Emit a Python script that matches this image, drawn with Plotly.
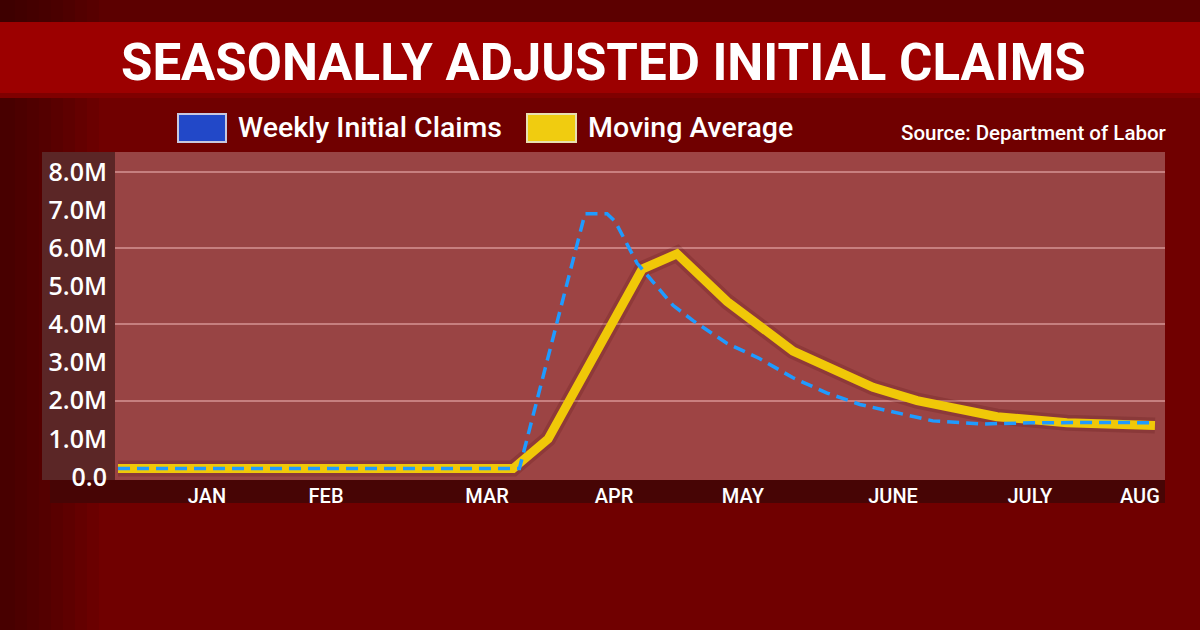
import plotly.graph_objects as go

# ---------------- data ----------------
# x is measured in weeks from the first week of January 2020
weekly_x = [0.0, 12.0, 13.96, 14.62, 14.86, 15.52, 16.59, 17.19, 18.21, 19.19,
            20.18, 21.2, 22.18, 23.17, 24.36, 25.86, 27.35, 29.36, 31.0]
weekly_claims = [0.22, 0.22, 6.9, 6.9, 6.7, 5.6, 4.5, 4.1, 3.5, 3.1,
                 2.6, 2.2, 1.9, 1.7, 1.47, 1.39, 1.42, 1.43, 1.42]

avg_x = [0.0, 11.81, 12.86, 15.67, 16.71, 18.21, 20.18, 22.57, 23.89, 26.28, 28.37, 31.0]
moving_avg = [0.22, 0.22, 1.0, 5.45, 5.85, 4.6, 3.3, 2.35, 2.0, 1.58, 1.42, 1.35]

month_pos = [2.66, 6.22, 11.03, 14.83, 18.68, 23.17, 27.26, 30.55]
month_labels = ["JAN", "FEB", "MAR", "APR", "MAY", "JUNE", "JULY", "AUG"]

y_ticks = [0, 1, 2, 3, 4, 5, 6, 7, 8]
y_labels = ["0.0", "1.0M", "2.0M", "3.0M", "4.0M", "5.0M", "6.0M", "7.0M", "8.0M"]

title_text = "SEASONALLY ADJUSTED INITIAL CLAIMS"
series_names = ["Weekly Initial Claims", "Moving Average"]
source_text = "Source: Department of Labor"

# ---------------- layout geometry ----------------
W, H = 1200, 630
L, R, T, B = 115, 1165, 152, 480


def xp(px):
    return (px - L) / (R - L)


def yp(py):
    return (B - py) / (B - T)


fig = go.Figure()

# soft shadow under the yellow line
fig.add_trace(go.Scatter(x=avg_x, y=moving_avg, mode="lines",
                         line=dict(color="rgba(70,0,0,0.16)", width=16),
                         hoverinfo="skip", showlegend=False))
fig.add_trace(go.Scatter(x=avg_x, y=moving_avg, mode="lines", name=series_names[1],
                         line=dict(color="#f0c808", width=9), showlegend=False))
fig.add_trace(go.Scatter(x=weekly_x, y=weekly_claims, mode="lines", name=series_names[0],
                         line=dict(color="#1f9bff", width=3.5, dash="12px,7px"),
                         showlegend=False))

shapes = []
# background: darker towards the left edge (stepped gradient)
for i in range(8):
    shapes.append(dict(type="rect", xref="paper", yref="paper",
                       x0=xp(0), x1=xp(15 + i * 12), y0=yp(H), y1=yp(0),
                       fillcolor="rgba(30,0,0,0.07)", line_width=0, layer="below"))
# darker top strip above the title band
shapes.append(dict(type="rect", xref="paper", yref="paper", x0=xp(0), x1=xp(W),
                   y0=yp(22), y1=yp(0), fillcolor="rgba(30,0,0,0.25)",
                   line_width=0, layer="below"))
# title band
shapes.append(dict(type="rect", xref="paper", yref="paper", x0=xp(0), x1=xp(W),
                   y0=yp(98), y1=yp(22), fillcolor="#9c0000", line_width=0, layer="below"))
shapes.append(dict(type="rect", xref="paper", yref="paper", x0=xp(0), x1=xp(W),
                   y0=yp(98), y1=yp(93), fillcolor="rgba(60,0,0,0.30)",
                   line_width=0, layer="below"))
# y label column
shapes.append(dict(type="rect", xref="paper", yref="paper", x0=xp(42), x1=xp(L),
                   y0=yp(B), y1=yp(T), fillcolor="#5b2626", line_width=0, layer="below"))
# x label strip
shapes.append(dict(type="rect", xref="paper", yref="paper", x0=xp(50), x1=xp(R),
                   y0=yp(503), y1=yp(B), fillcolor="#470505", line_width=0, layer="below"))
# plot panel: lighter towards the middle (stepped gradient)
for i in range(6):
    shapes.append(dict(type="rect", xref="paper", yref="paper",
                       x0=xp(400 + i * 40), x1=xp(1000 - i * 40), y0=yp(B), y1=yp(T),
                       fillcolor="rgba(255,110,110,0.012)", line_width=0, layer="below"))
# legend swatches
shapes.append(dict(type="rect", xref="paper", yref="paper", x0=xp(178), x1=xp(226),
                   y0=yp(142), y1=yp(114), fillcolor="#2248c8",
                   line=dict(color="#c8c8e0", width=2)))
shapes.append(dict(type="rect", xref="paper", yref="paper", x0=xp(527), x1=xp(576),
                   y0=yp(142), y1=yp(114), fillcolor="#f0cc10",
                   line=dict(color="#e8e0b0", width=2)))

annotations = [
    dict(text="<b>" + title_text + "</b>", xref="paper", yref="paper",
         x=xp(603), y=yp(62), xanchor="center", yanchor="middle", showarrow=False,
         font=dict(family="Roboto", size=51, color="white")),
    dict(text=series_names[0], xref="paper", yref="paper", x=xp(236), y=yp(128),
         xanchor="left", yanchor="middle", showarrow=False,
         font=dict(family="Roboto", size=28.5, color="white", weight=500)),
    dict(text=series_names[1], xref="paper", yref="paper", x=xp(586), y=yp(128),
         xanchor="left", yanchor="middle", showarrow=False,
         font=dict(family="Roboto", size=28.5, color="white", weight=500)),
    dict(text=source_text, xref="paper", yref="paper", x=xp(1168), y=yp(133),
         xanchor="right", yanchor="middle", showarrow=False,
         font=dict(family="Roboto", size=20.5, color="white", weight=500)),
]

fig.update_layout(
    width=W, height=H,
    margin=dict(l=L, r=W - R, t=T, b=H - B, pad=0),
    paper_bgcolor="#700000",
    plot_bgcolor="#984444",
    shapes=shapes,
    annotations=annotations,
    showlegend=False,
    xaxis=dict(range=[-0.09, 31.3], tickvals=month_pos, ticktext=month_labels,
               showgrid=False, zeroline=False, showline=False, ticks="",
               ticklabelstandoff=2,
               tickfont=dict(family="Roboto", size=20, color="white", weight=500)),
    yaxis=dict(range=[-0.08, 8.52], tickvals=y_ticks, ticktext=y_labels,
               showgrid=False, zeroline=False, showline=False, ticks="",
               ticklabelstandoff=7,
               tickfont=dict(family="Open Sans", size=25, color="white", weight=600),
               minor=dict(tickvals=[2, 4, 6, 8], showgrid=True,
                          gridcolor="rgba(255,200,200,0.45)", gridwidth=2, ticks="")),
)

fig.write_html("out.html")
